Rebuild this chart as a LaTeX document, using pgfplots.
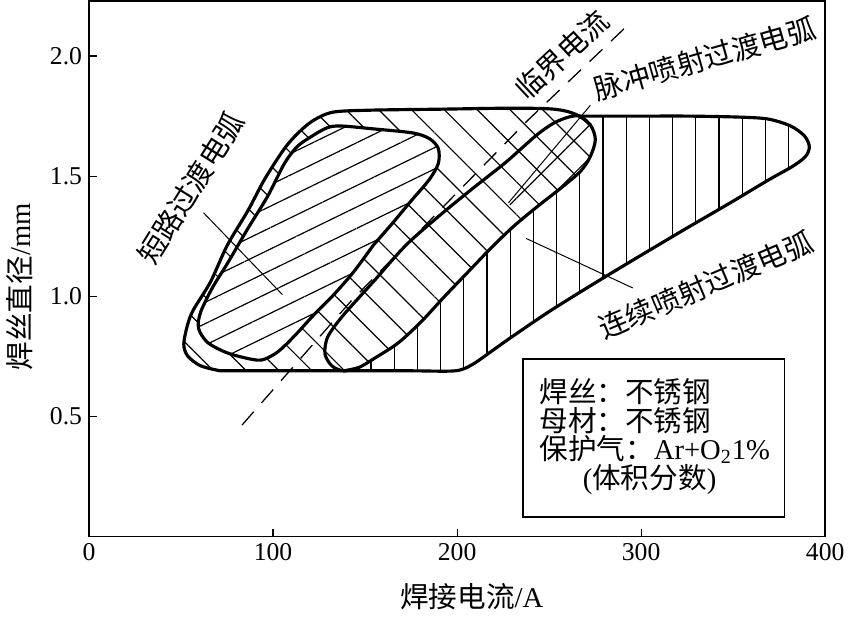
\documentclass[border=0pt]{standalone}
\usepackage{fontspec}
\setmainfont{Liberation Serif}
\newfontfamily\cjk{Noto Sans CJK SC}
\usepackage{pgfplots}
\pgfplotsset{compat=1.18}
\usetikzlibrary{patterns.meta}
\newcommand{\cn}{\cjk\fontsize{14.5}{15}\selectfont}

\begin{document}
\begin{tikzpicture}
\begin{axis}[
  width=373pt, height=271.5pt, scale only axis,
  xmin=0, xmax=400, ymin=0, ymax=2.23,
  xtick={0,100,200,300,400}, ytick={0.5,1,1.5,2},
  xtick pos=left, ytick pos=left,
  tick align=inside,
  major tick length=4pt,
  axis line style={line width=0.8pt},
  every tick/.style={black, line width=0.6pt},
  yticklabel style={/pgf/number format/.cd, fixed, fixed zerofill, precision=1},
  /pgf/number format/assume math mode=true,
  every tick label/.append style={font=\fontsize{13}{15}\selectfont},
  xlabel={{\cn 焊接电流}\fontsize{14.5}{15}\selectfont/A},
  ylabel={{\cn 焊丝直径}\fontsize{14.5}{15}\selectfont/mm},
  xlabel style={at={(axis description cs:0.52,-0.112)}, anchor=center},
  ylabel style={at={(axis description cs:-0.094,0.466)}, anchor=center},
]
% ---- pulse spray region (P) hatch
\addplot[draw=none, smooth, tension=0.5, pattern={Lines[angle=-45,distance=11.75pt,line width=0.6pt]}] coordinates {
(71.3,0.690) (60.6,0.711) (53.6,0.752) (51.5,0.801) (53.6,0.883) (56.8,0.945)
(66.0,1.060) (75.1,1.212) (86.3,1.356) (95.4,1.487) (106.2,1.615) (114.2,1.684)
(122.3,1.734) (133.0,1.767) (154.4,1.775) (192.0,1.779) (229.5,1.783) (252.5,1.779)
(264.3,1.758) (272.4,1.713) (275.1,1.652) (272.4,1.582) (267.0,1.520) (256.3,1.450)
(244.0,1.376) (231.1,1.294) (218.8,1.204) (206.4,1.105) (193.0,0.998) (180.2,0.892)
(167.8,0.805) (155.5,0.744) (146.4,0.703) (138.3,0.690)
} --cycle;
% ---- continuous spray region outside the oblong (C') hatch
\addplot[draw=none, smooth, tension=0.5, pattern={Lines[angle=90,distance=11.75pt,line width=0.6pt]}] coordinates {
(138.3,0.690) (146.4,0.703) (155.5,0.744) (167.8,0.805) (180.2,0.892) (193.0,0.998)
(206.4,1.105) (218.8,1.204) (231.1,1.294) (244.0,1.376) (256.3,1.450) (267.0,1.520)
(272.4,1.582) (275.1,1.652) (272.4,1.713) (267.0,1.750) (299.2,1.750) (326.0,1.750)
(352.8,1.746) (368.9,1.738) (381.2,1.709) (388.7,1.668) (391.4,1.623) (389.3,1.582)
(382.3,1.541) (368.9,1.483) (347.5,1.385) (320.6,1.265) (280.4,1.081) (250.9,0.941)
(229.5,0.830) (218.8,0.772) (208.0,0.715) (198.9,0.690) (176.0,0.690) (154.4,0.690)
} --cycle;
% ---- cross-hatched cap of the oblong
\addplot[draw=none, smooth, tension=0.5, pattern={Lines[angle=45,distance=11.75pt,line width=0.6pt]}] coordinates {
(227.9,1.389) (267.0,1.750) (272.4,1.713) (275.1,1.652) (272.4,1.582) (267.0,1.520)
(256.3,1.450) (244.0,1.376) (234.9,1.319)
} --cycle;
% ---- short-circuit region (S)
\addplot[draw=none, smooth, tension=0.5, fill=white] coordinates {
(154.4,1.212) (143.7,1.101) (133.0,1.007) (122.3,0.924) (111.5,0.834) (102.4,0.768)
(93.8,0.735) (84.7,0.744) (74.0,0.768) (64.3,0.809) (59.5,0.867) (60.6,0.933)
(67.0,1.035) (75.6,1.142) (86.3,1.282) (97.1,1.417) (106.2,1.553) (113.1,1.623)
(120.6,1.664) (129.2,1.701) (136.7,1.709) (154.4,1.697) (175.9,1.680) (185.0,1.656)
(189.8,1.615) (189.8,1.553) (185.0,1.487) (175.9,1.405) (165.1,1.306)
} --cycle;
\addplot[draw=none, smooth, tension=0.5, pattern={Lines[angle=26,distance=9.75pt,line width=0.6pt]}] coordinates {
(154.4,1.212) (143.7,1.101) (133.0,1.007) (122.3,0.924) (111.5,0.834) (102.4,0.768)
(93.8,0.735) (84.7,0.744) (74.0,0.768) (64.3,0.809) (59.5,0.867) (60.6,0.933)
(67.0,1.035) (75.6,1.142) (86.3,1.282) (97.1,1.417) (106.2,1.553) (113.1,1.623)
(120.6,1.664) (129.2,1.701) (136.7,1.709) (154.4,1.697) (175.9,1.680) (185.0,1.656)
(189.8,1.615) (189.8,1.553) (185.0,1.487) (175.9,1.405) (165.1,1.306)
} --cycle;
% ---- outlines
\addplot[black, line width=1.6pt, smooth, tension=0.5, line join=round] coordinates {
(71.3,0.690) (60.6,0.711) (53.6,0.752) (51.5,0.801) (53.6,0.883) (56.8,0.945)
(66.0,1.060) (75.1,1.212) (86.3,1.356) (95.4,1.487) (106.2,1.615) (114.2,1.684)
(122.3,1.734) (133.0,1.767) (154.4,1.775) (192.0,1.779) (229.5,1.783) (252.5,1.779)
(264.3,1.758) (272.4,1.713) (275.1,1.652) (272.4,1.582) (267.0,1.520) (256.3,1.450)
(244.0,1.376) (231.1,1.294) (218.8,1.204) (206.4,1.105) (193.0,0.998) (180.2,0.892)
(167.8,0.805) (155.5,0.744) (146.4,0.703) (138.3,0.690)
} --cycle;
\addplot[black, line width=1.6pt, smooth, tension=0.5, line join=round] coordinates {
(154.4,1.212) (143.7,1.101) (133.0,1.007) (122.3,0.924) (111.5,0.834) (102.4,0.768)
(93.8,0.735) (84.7,0.744) (74.0,0.768) (64.3,0.809) (59.5,0.867) (60.6,0.933)
(67.0,1.035) (75.6,1.142) (86.3,1.282) (97.1,1.417) (106.2,1.553) (113.1,1.623)
(120.6,1.664) (129.2,1.701) (136.7,1.709) (154.4,1.697) (175.9,1.680) (185.0,1.656)
(189.8,1.615) (189.8,1.553) (185.0,1.487) (175.9,1.405) (165.1,1.306)
} --cycle;
% oblong upper-left edge
\addplot[black, line width=1.6pt, smooth, tension=0.5] coordinates {
(146.4,0.703) (138.3,0.690) (131.9,0.711) (128.2,0.760) (129.2,0.822) (133.0,0.871)
(139.9,0.937) (154.4,1.060) (172.1,1.212) (190.3,1.335) (208.0,1.446) (225.7,1.553)
(234.9,1.615) (244.0,1.676) (252.5,1.721) (260.6,1.746) (267.0,1.750) (272.4,1.713)
};
% continuous region outer outline
\addplot[black, line width=1.6pt, smooth, tension=0.5] coordinates {
(267.0,1.750) (299.2,1.750) (326.0,1.750) (352.8,1.746) (368.9,1.738) (381.2,1.709)
(388.7,1.668) (391.4,1.623) (389.3,1.582) (382.3,1.541) (368.9,1.483) (347.5,1.385)
(320.6,1.265) (280.4,1.081) (250.9,0.941) (229.5,0.830) (218.8,0.772) (208.0,0.715)
(198.9,0.690) (176.0,0.690) (154.4,0.690) (138.3,0.690)
};
% ---- critical current (dashed)
\addplot[black, line width=0.65pt, dash pattern=on 9pt off 6pt] coordinates {
(83.1,0.464) (142.1,0.978) (238.6,1.734) (293.8,2.136)
};
% ---- pointer lines
\addplot[black, line width=0.5pt] coordinates {(62.2,1.348) (105.1,1.007)};
\addplot[black, line width=0.5pt] coordinates {(227.9,1.389) (272.4,1.795)};
\addplot[black, line width=0.5pt] coordinates {(237.5,1.241) (295.4,1.035)};
% ---- region labels
\node[rotate=58, inner sep=0] at (axis cs:55.2,1.450) {\cn 短路过渡电弧};
\node[rotate=43, inner sep=0] at (axis cs:257.0,2.005) {\cn 临界电流};
\node[rotate=16, inner sep=0] at (axis cs:334.5,1.990) {\cn 脉冲喷射过渡电弧};
\node[rotate=23, inner sep=0] at (axis cs:335.1,1.048) {\cn 连续喷射过渡电弧};
% ---- legend box
\draw[line width=0.75pt] (axis cs:235.9,0.740) rectangle (axis cs:378.0,0.082);
\node[anchor=west, inner sep=0] at (axis cs:244.5,0.604) {\cn 焊丝：不锈钢};
\node[anchor=west, inner sep=0] at (axis cs:244.5,0.481) {\cn 母材：不锈钢};
\node[anchor=west, inner sep=0] at (axis cs:244.5,0.362) {{\cn 保护气：}\fontsize{14.5}{15}\selectfont Ar+O\textsubscript{2}1\%};
\node[anchor=west, inner sep=0] at (axis cs:268.1,0.238) {\fontsize{14.5}{15}\selectfont ({\cn 体积分数})};
\end{axis}
\end{tikzpicture}
\end{document}
